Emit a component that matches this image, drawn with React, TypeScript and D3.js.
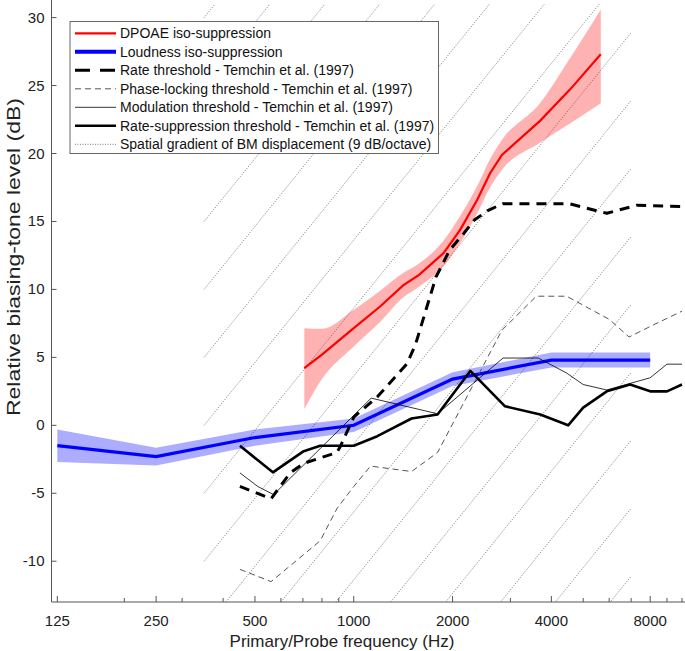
import * as d3 from 'd3';

const W = 685;
const H = 651;

// Loudness iso-suppression (blue) with shaded error band
const loudFreq = [125, 250, 500, 1000, 2000, 4000, 8000];
const loudMean = [-1.5, -2.3, -0.9, 0, 3.4, 4.8, 4.8];
const loudErr = [1.2, 0.65, 0.6, 0.5, 0.5, 0.55, 0.55];

// DPOAE iso-suppression (red) with shaded band
const dpFreq = [707, 800, 1000, 1203, 1414, 1581, 1878, 2109, 2378, 2602, 2828, 3693, 4556, 5657];
const dpMean = [4.2, 5.2, 7.15, 8.74, 10.3, 11.07, 12.67, 14.38, 16.6, 18.55, 19.9, 22.4, 24.7, 27.3];
const dpHigh = [7.15, 7.1, 8.5, 9.9, 11.2, 11.9, 13.6, 15.4, 17.6, 19.6, 21.0, 23.7, 27.0, 30.6];
const dpLow = [1.2, 3.4, 5.8, 7.6, 9.4, 10.2, 11.7, 13.4, 15.6, 17.5, 18.8, 20.8, 22.2, 23.7];

// Temchin et al. (1997)
const rateFreq = [450, 560, 640, 704, 888, 908, 1000, 1180, 1450, 1540, 1660, 1780, 1960, 2160, 2330, 2560, 2840, 4550, 5900, 7300, 10000];
const rateVal = [-4.5, -5.4, -3.5, -2.8, -2.0, -1.6, 0.6, 2.1, 4.5, 5.9, 8.5, 10.9, 12.9, 14.1, 15.1, 15.8, 16.3, 16.3, 15.6, 16.2, 16.1];

const phaseFreq = [450, 560, 790, 890, 1000, 1125, 1500, 1800, 2828, 3600, 4450, 6000, 6900, 8200, 10000];
const phaseVal = [-10.6, -11.5, -8.5, -6.1, -4.5, -3.0, -3.4, -2.0, 7.0, 9.5, 9.5, 7.8, 6.5, 7.4, 8.4];

const modFreq = [450, 510, 570, 1130, 1800, 2850, 3650, 4450, 5000, 5900, 8000, 9000, 10000];
const modVal = [-3.5, -4.5, -5.1, 2.0, 0.85, 4.95, 4.95, 3.85, 3.0, 2.6, 3.5, 4.5, 4.5];

const supFreq = [450, 567, 704, 790, 1000, 1180, 1500, 1800, 2265, 2890, 3700, 4500, 5000, 5900, 6950, 8000, 9000, 10000];
const supVal = [-1.5, -3.46, -1.9, -1.5, -1.5, -0.8, 0.5, 0.8, 4.0, 1.4, 0.8, 0.0, 1.3, 2.5, 3.0, 2.5, 2.5, 3.0];

// 9 dB/octave reference lines (level at 350 Hz), drawn from 350 to 7000 Hz
const gradientSlope = 9;
const gradientFreqs = [350, 7000];
const gradientOffsets = [-50, -45, -40, -35, -30, -25, -20, -15, -10, -5, 0, 5, 10, 15, 20, 25, 30];

const xLabelTicks = [125, 250, 500, 1000, 2000, 4000, 8000];
const xMinorTicks = [200, 300, 400, 600, 700, 800, 900, 3000, 5000, 6000, 7000, 9000, 10000];
const yTicks = [-10, -5, 0, 5, 10, 15, 20, 25, 30];

const legendLabels = [
  'DPOAE iso-suppression',
  'Loudness iso-suppression',
  'Rate threshold - Temchin et al. (1997)',
  'Phase-locking threshold - Temchin et al. (1997)',
  'Modulation threshold - Temchin et al. (1997)',
  'Rate-suppression threshold - Temchin et al. (1997)',
  'Spatial gradient of BM displacement (9 dB/octave)',
];

const FONT = '"Liberation Sans", Arial, Helvetica, sans-serif';

type Style = { stroke: string; width: number; dash?: string };
const styles: Style[] = [
  { stroke: '#ff0000', width: 2.2 },
  { stroke: '#0000ff', width: 3.2 },
  { stroke: '#000000', width: 3, dash: '10,7' },
  { stroke: '#555555', width: 1, dash: '6,4' },
  { stroke: '#000000', width: 0.8 },
  { stroke: '#000000', width: 2.6 },
  { stroke: '#7a7a7a', width: 1, dash: '1,1.5' },
];

export default function App() {
  const x = d3.scaleLog().domain([120, 10000]).range([51.5, 682]);
  const y = d3.scaleLinear().domain([-13, 31]).range([602, 4]);

  const line = d3
    .line<[number, number]>()
    .x((d) => x(d[0]))
    .y((d) => y(d[1]));

  const zip = (f: number[], v: number[]) => f.map((d, i) => [d, v[i]] as [number, number]);

  const loudBand = d3
    .area<number>()
    .x((_, i) => x(loudFreq[i]))
    .y0((_, i) => y(loudMean[i] - loudErr[i]))
    .y1((_, i) => y(loudMean[i] + loudErr[i]));

  const dpBand = d3
    .area<number>()
    .curve(d3.curveMonotoneX)
    .x((_, i) => x(dpFreq[i]))
    .y0((_, i) => y(dpLow[i]))
    .y1((_, i) => y(dpHigh[i]));

  const gradientLines = gradientOffsets.map((c) =>
    gradientFreqs.map((f) => [f, c + gradientSlope * Math.log2(f / gradientFreqs[0])] as [number, number])
  );

  const temchin = [
    { data: zip(rateFreq, rateVal), s: styles[2] },
    { data: zip(phaseFreq, phaseVal), s: styles[3] },
    { data: zip(modFreq, modVal), s: styles[4] },
    { data: zip(supFreq, supVal), s: styles[5] },
  ];

  const x0 = x.range()[0];
  const yBottom = y.range()[0];
  const yTop = y.range()[1];

  const legX = 70;
  const legY = 21.5;
  const legW = 368.5;
  const legH = 132;
  const rowY = (i: number) => 33.3 + i * 18.5;

  return (
    <svg
      width={W}
      height={H}
      style={{ position: 'absolute', left: 0, top: 0, background: '#fff' }}
      fontFamily={FONT}
    >
      <defs>
        <clipPath id='plotClip'>
          <rect x={x0} y={yTop} width={W - x0} height={yBottom - yTop} />
        </clipPath>
      </defs>

      <g clipPath='url(#plotClip)'>
        {gradientLines.map((g, i) => (
          <path
            key={'g' + i}
            d={line(g) ?? ''}
            fill='none'
            stroke={styles[6].stroke}
            strokeWidth={styles[6].width}
            strokeDasharray={styles[6].dash}
          />
        ))}

        <path d={loudBand(loudFreq) ?? ''} fill='rgba(0,0,255,0.32)' stroke='none' />
        <path d={dpBand(dpFreq) ?? ''} fill='rgba(255,0,0,0.3)' stroke='none' />

        <path d={line(zip(dpFreq, dpMean)) ?? ''} fill='none' stroke={styles[0].stroke} strokeWidth={styles[0].width} />
        <path d={line(zip(loudFreq, loudMean)) ?? ''} fill='none' stroke={styles[1].stroke} strokeWidth={styles[1].width} />

        {temchin.map((t, i) => (
          <path
            key={'t' + i}
            d={line(t.data) ?? ''}
            fill='none'
            stroke={t.s.stroke}
            strokeWidth={t.s.width}
            strokeDasharray={t.s.dash}
            strokeLinejoin='round'
          />
        ))}
      </g>

      {/* axes */}
      <line x1={x0} x2={x0} y1={yTop - 4} y2={yBottom} stroke='#555' strokeWidth={1} />
      <line x1={x0} x2={W} y1={yBottom} y2={yBottom} stroke='#555' strokeWidth={1} />

      {yTicks.map((t) => (
        <g key={'y' + t}>
          <line x1={x0} x2={x0 + 5} y1={y(t)} y2={y(t)} stroke='#555' />
          <text x={x0 - 7} y={y(t) + 5} textAnchor='end' fontSize={15} fill='#222'>
            {t}
          </text>
        </g>
      ))}

      {xMinorTicks.map((t) => (
        <line key={'xm' + t} x1={x(t)} x2={x(t)} y1={yBottom} y2={yBottom - 4} stroke='#555' />
      ))}
      {xLabelTicks.map((t) => (
        <g key={'x' + t}>
          <line x1={x(t)} x2={x(t)} y1={yBottom} y2={yBottom - 6} stroke='#555' />
          <text x={x(t)} y={626} textAnchor='middle' fontSize={15} fill='#222'>
            {t}
          </text>
        </g>
      ))}

      <text x={342} y={647} textAnchor='middle' fontSize={17} fill='#222'>
        Primary/Probe frequency (Hz)
      </text>
      <text
        transform={`translate(20,257) rotate(-90)`}
        textAnchor='middle'
        fontSize={19}
        textLength={318}
        lengthAdjust='spacingAndGlyphs'
        fill='#222'
      >
        Relative biasing-tone level (dB)
      </text>

      {/* legend */}
      <rect x={legX} y={legY} width={legW} height={legH} fill='#fff' stroke='#666' strokeWidth={1} />
      {legendLabels.map((label, i) => (
        <g key={'l' + i}>
          <line
            x1={75}
            x2={116}
            y1={rowY(i)}
            y2={rowY(i)}
            stroke={styles[i].stroke}
            strokeWidth={i === 1 ? 4 : styles[i].width}
            strokeDasharray={i === 2 ? '15,10' : styles[i].dash}
          />
          <text x={120} y={rowY(i) + 5} fontSize={14} fill='#111'>
            {label}
          </text>
        </g>
      ))}
    </svg>
  );
}
